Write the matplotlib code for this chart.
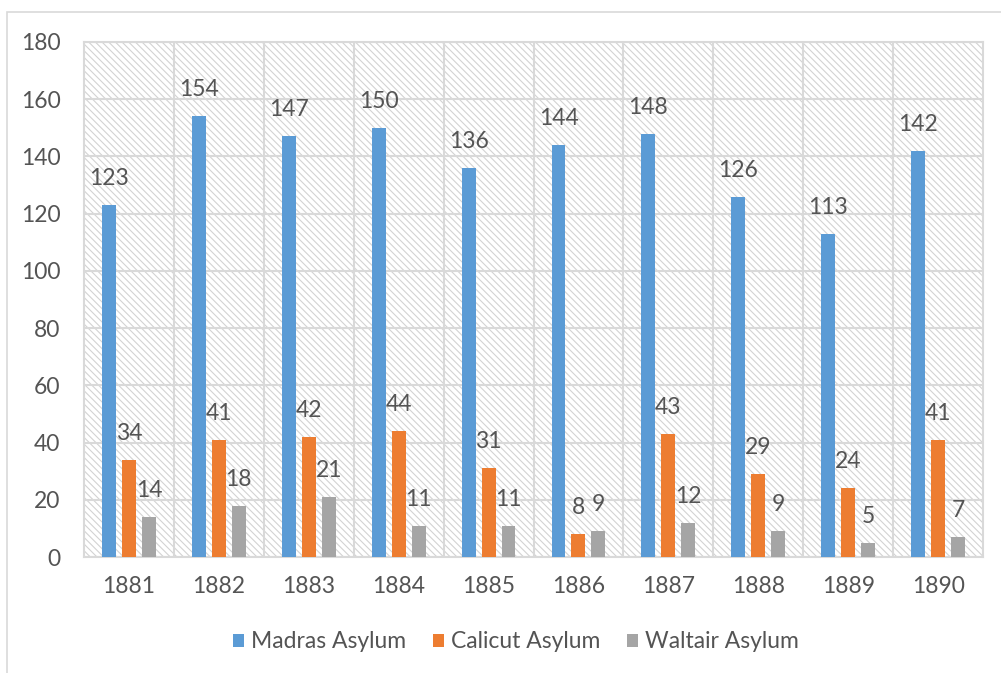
import numpy as np
import matplotlib
matplotlib.use("Agg")
import matplotlib.pyplot as plt
from matplotlib.patches import Rectangle

# Annual admissions per asylum
years = ["1881", "1882", "1883", "1884", "1885", "1886", "1887", "1888", "1889", "1890"]
madras = [123, 154, 147, 150, 136, 144, 148, 126, 113, 142]
calicut = [34, 41, 42, 44, 31, 8, 43, 29, 24, 41]
waltair = [14, 18, 21, 11, 11, 9, 12, 9, 5, 7]

series = [
    ("Madras Asylum", madras, "#5B9BD5"),
    ("Calicut Asylum", calicut, "#ED7D31"),
    ("Waltair Asylum", waltair, "#A5A5A5"),
]

text_color = "#545454"
grid_color = "#D9D9D9"

plt.rcParams.update({
    "font.family": ["Lato", "DejaVu Sans"],
    "font.size": 16.5,
    "hatch.color": "#D3D3D3",
    "hatch.linewidth": 0.8,
})

fig = plt.figure(figsize=(10.01, 6.73), dpi=100)
ax = fig.add_axes([84 / 1001, 1 - 557 / 673, (983 - 84) / 1001, (557 - 42) / 673])

# chart frame (only top and left edges fall inside the image)
fig.patches.append(Rectangle((7 / 1001, -0.1), 1.2, 1 - 12 / 673 + 0.1,
                             transform=fig.transFigure, fill=False,
                             edgecolor=grid_color, linewidth=1.2, zorder=0))

# diagonal hatched background of the plot area
ax.patch.set_facecolor("white")
ax.add_patch(Rectangle((0, 0), 1, 1, transform=ax.transAxes, facecolor="white",
                       edgecolor="#D3D3D3", hatch="\\\\\\\\\\", linewidth=0, zorder=0))

x = np.arange(len(years))
width = 0.155
offsets = [-0.222, 0.0, 0.222]

for (name, vals, color), off in zip(series, offsets):
    bars = ax.bar(x + off, vals, width=width, color=color, label=name, zorder=3)
    for rect, v in zip(bars, vals):
        ax.annotate(str(v), (rect.get_x() + rect.get_width() / 2, v),
                    xytext=(0, 11.5), textcoords="offset points",
                    ha="center", va="bottom", color=text_color, zorder=4)

ax.set_xlim(-0.5, len(years) - 0.5)
ax.set_ylim(0, 180)
ax.set_yticks(range(0, 181, 20))
ax.set_xticks(x)
ax.set_xticklabels(years)

# gridlines: horizontal at each tick, vertical between categories
ax.set_xticks(x[:-1] + 0.5, minor=True)
ax.grid(axis="y", which="major", color=grid_color, linewidth=1.5, zorder=1)
ax.grid(axis="x", which="minor", color=grid_color, linewidth=1.5, zorder=1)
ax.set_axisbelow(True)

for s in ax.spines.values():
    s.set_color(grid_color)
    s.set_linewidth(1.5)

ax.tick_params(axis="both", which="both", length=0, colors=text_color)
ax.tick_params(axis="y", pad=17)
ax.tick_params(axis="x", pad=14)

fig.legend(loc="center", bbox_to_anchor=(516 / 1001, 1 - 642 / 673), ncol=3,
           frameon=False, handlelength=0.5, handleheight=0.5,
           handletextpad=0.3, columnspacing=1.15, labelcolor=text_color)

fig.savefig("out.png", dpi=100, facecolor="white")
